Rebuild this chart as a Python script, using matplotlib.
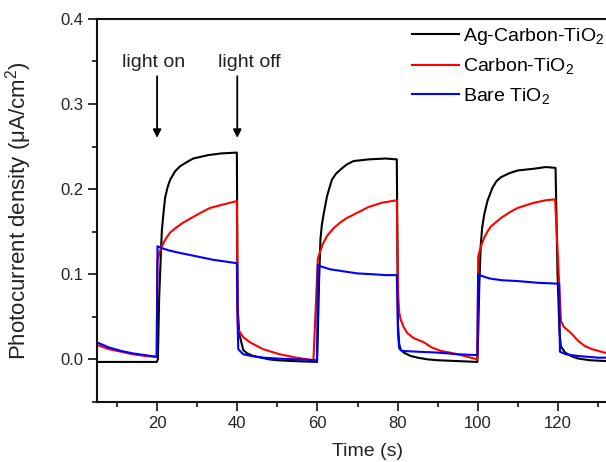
import matplotlib
matplotlib.use("Agg")
import matplotlib.pyplot as plt
from matplotlib.ticker import MultipleLocator, FormatStrFormatter

plt.rcParams['font.family'] = ['Liberation Sans', 'DejaVu Sans']
plt.rcParams['mathtext.fontset'] = 'custom'
plt.rcParams['mathtext.rm'] = 'Liberation Sans'
plt.rcParams['mathtext.it'] = 'Liberation Sans:italic'
plt.rcParams['mathtext.bf'] = 'Liberation Sans:bold'

# ---- data ----
labels = ['Ag-Carbon-TiO$_2$', 'Carbon-TiO$_2$', 'Bare TiO$_2$']
colors = ['black', '#ff0000', '#0000ff']

t_black = [5, 19.9, 20.2, 20.5, 21.0, 21.2, 21.6, 22.0, 22.6, 23.25, 24.5, 25.75, 27.5, 29.0, 32.75, 36, 39.9,
           40.1, 40.5, 41.5, 42.5, 44, 46, 48, 50, 54, 59.9,
           60.1, 60.4, 60.75, 61.1, 61.6, 62.4, 63.6, 64.6, 65.75, 67.3, 69, 72.75, 77, 79.8,
           80.1, 80.4, 80.75, 81.5, 83.25, 85, 87.5, 90, 95, 99.9,
           100.1, 100.4, 100.75, 101.1, 101.6, 102.4, 103.6, 104.6, 105.75, 108, 110, 114, 117, 119.4,
           119.9, 120.4, 120.75, 121.8, 123.25, 125, 128, 132, 136, 140]
y_black = [-0.003, -0.003, 0.0, 0.07, 0.13, 0.152, 0.172, 0.19, 0.202, 0.211, 0.221, 0.227, 0.232, 0.236, 0.240, 0.242, 0.243,
           0.06, 0.03, 0.011, 0.007, 0.004, 0.002, 0.0, -0.001, -0.002, -0.003,
           0.03, 0.09, 0.141, 0.158, 0.172, 0.192, 0.211, 0.218, 0.223, 0.229, 0.233, 0.235, 0.236, 0.235,
           0.04, 0.018, 0.012, 0.008, 0.004, 0.002, 0.0, -0.001, -0.002, -0.003,
           0.03, 0.09, 0.135, 0.155, 0.170, 0.186, 0.201, 0.209, 0.214, 0.219, 0.222, 0.224, 0.226, 0.225,
           0.10, 0.03, 0.015, 0.008, 0.004, 0.001, -0.001, -0.002, -0.003, -0.003]

t_red = [5, 8, 11, 14, 17, 19.9, 20.1, 20.6, 21.2, 22.2, 23.25, 24.8, 26.6, 28.5, 30.75, 33.25, 36.5, 39.9,
         40.1, 40.25, 41.5, 43.2, 44.8, 46.5, 48.5, 50.6, 54.75, 59,
         60.1, 60.5, 61.3, 62.4, 64, 65.75, 67.3, 69, 72.75, 76, 79.8,
         80.1, 80.4, 80.75, 81.5, 82.4, 84, 86.6, 88.5, 90.75, 93, 95, 97.5, 99.9,
         100.1, 100.8, 101.6, 102.4, 103.25, 104.5, 105.75, 108, 110, 114, 117, 119.3,
         120.75, 121.5, 123.25, 125, 126.6, 128.5, 131.6, 135, 140]
y_red = [0.017, 0.012, 0.009, 0.006, 0.004, 0.003, 0.115, 0.126, 0.133, 0.142, 0.149, 0.155, 0.161, 0.166, 0.172, 0.178, 0.182, 0.186,
         0.05, 0.035, 0.026, 0.020, 0.016, 0.012, 0.009, 0.006, 0.002, -0.001,
         0.118, 0.124, 0.135, 0.145, 0.154, 0.161, 0.166, 0.170, 0.179, 0.184, 0.187,
         0.08, 0.055, 0.047, 0.038, 0.031, 0.025, 0.020, 0.014, 0.010, 0.008, 0.006, 0.003, 0.0,
         0.121, 0.133, 0.143, 0.150, 0.156, 0.161, 0.166, 0.173, 0.178, 0.184, 0.187, 0.188,
         0.045, 0.038, 0.031, 0.022, 0.016, 0.012, 0.008, 0.005, 0.003]

t_blue = [5, 8, 11, 14, 17, 19.9, 20.1, 21, 23, 25.75, 29.9, 34, 37, 39.9,
          40.1, 40.25, 41.5, 43.5, 46.5, 50, 55, 59.9,
          60.1, 61, 63, 65.75, 70, 74, 77, 79.8,
          80.1, 80.4, 81, 85, 90, 95, 99.9,
          100.1, 101, 103, 106, 110, 115, 119.8, 120.3,
          120.5, 122, 125, 130, 135, 140]
y_blue = [0.020, 0.014, 0.010, 0.007, 0.005, 0.003, 0.133, 0.131, 0.128, 0.125, 0.121, 0.117, 0.115, 0.113,
          0.04, 0.012, 0.006, 0.004, 0.002, 0.001, 0.0, -0.001,
          0.111, 0.109, 0.106, 0.104, 0.101, 0.100, 0.099, 0.099,
          0.03, 0.013, 0.010, 0.009, 0.008, 0.006, 0.005,
          0.100, 0.098, 0.095, 0.093, 0.092, 0.090, 0.089, 0.089,
          0.009, 0.006, 0.004, 0.002, 0.002, 0.001]

x_ticks = [20, 40, 60, 80, 100, 120]
y_ticks = [0.0, 0.1, 0.2, 0.3, 0.4]
annotations = [('light on', 20, 19.1), ('light off', 40, 43.1)]

# ---- figure ----
fig = plt.figure(figsize=(6.06, 4.62), dpi=100)
ax = fig.add_axes([0.160, 0.130, 0.893, 0.829])

for t, y, c, lab in zip([t_black, t_red, t_blue], [y_black, y_red, y_blue], colors, labels):
    ax.plot(t, y, color=c, lw=1.5, label=lab)

ax.set_xlim(5, 140)
ax.set_ylim(-0.05, 0.4)
ax.set_xticks(x_ticks)
ax.set_yticks(y_ticks)
ax.xaxis.set_minor_locator(MultipleLocator(10))
ax.yaxis.set_minor_locator(MultipleLocator(0.05))
ax.yaxis.set_major_formatter(FormatStrFormatter('%.1f'))
ax.tick_params(which='major', direction='out', length=6.5, width=1.3, labelsize=12, colors='#222222', labelcolor='#222222')
ax.tick_params(which='minor', direction='out', length=3.5, width=1.3, colors='#222222')
for s in ax.spines.values():
    s.set_linewidth(1.5)
    s.set_color('#111111')

ax.set_xlabel('Time (s)', fontsize=14, color='#222222', labelpad=9)
ax.set_ylabel('Photocurrent density (μA/cm$^2$)', fontsize=16, color='#222222', labelpad=19)

for txt, xv, xt in annotations:
    ax.annotate('', xy=(xv, 0.257), xytext=(xv, 0.336),
                arrowprops=dict(arrowstyle='-|>', color='black', lw=1.3, mutation_scale=12))
    ax.text(xt, 0.3385, txt, fontsize=14, ha='center', va='bottom', color='#222222')

leg = ax.legend(loc='upper left', bbox_to_anchor=(412 / 606, 1 - 26 / 462), bbox_transform=fig.transFigure,
                frameon=False, fontsize=14, handlelength=2.4, handletextpad=0.2, labelspacing=0.48,
                borderaxespad=0, borderpad=0)

fig.savefig('out.png', dpi=100)
